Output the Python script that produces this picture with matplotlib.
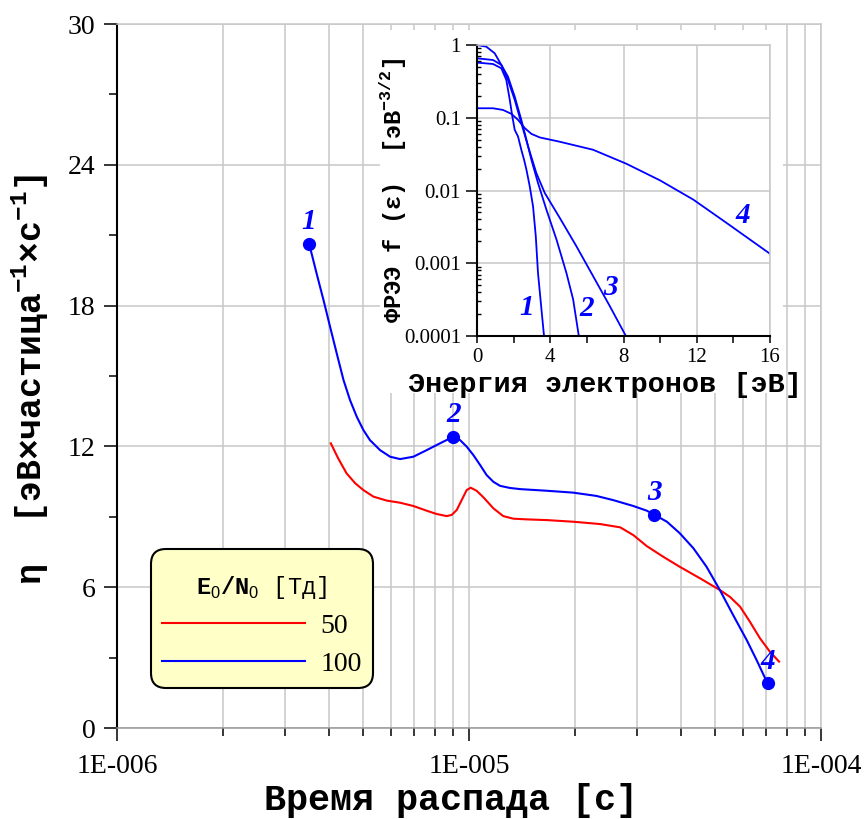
import math
import matplotlib
matplotlib.use("Agg")
import matplotlib.pyplot as plt
from matplotlib.patches import Rectangle
from matplotlib.ticker import MultipleLocator, LogLocator, FuncFormatter, NullFormatter

plt.rcParams["font.family"] = ["Liberation Serif", "DejaVu Serif"]
plt.rcParams["mathtext.fontset"] = "custom"
plt.rcParams["mathtext.rm"] = "Liberation Serif"
plt.rcParams["mathtext.tt"] = "Liberation Mono:bold"
plt.rcParams["mathtext.sf"] = "Liberation Sans"

# ---- decay time [s] vs eta, E0/N0 = 100 Td ----
t_100 = [3.51e-6, 3.57e-6, 3.69e-6, 3.86e-6, 4.03e-6, 4.21e-6, 4.40e-6, 4.59e-6,
         4.80e-6, 5.01e-6, 5.23e-6, 5.59e-6, 5.97e-6, 6.37e-6, 6.95e-6, 7.58e-6,
         8.27e-6, 9.02e-6, 9.43e-6, 9.85e-6, 1.029e-5, 1.075e-5, 1.122e-5,
         1.173e-5, 1.225e-5, 1.306e-5, 1.396e-5, 1.663e-5, 1.977e-5, 2.30e-5,
         2.57e-5, 2.93e-5, 3.20e-5, 3.36e-5, 3.65e-5, 3.97e-5, 4.34e-5, 4.73e-5,
         5.16e-5, 5.63e-5, 6.15e-5, 6.56e-5, 7.05e-5]
eta_100 = [20.62, 20.23, 19.37, 18.24, 17.10, 15.96, 14.83, 13.98,
           13.26, 12.70, 12.27, 11.84, 11.56, 11.46, 11.56, 11.84,
           12.13, 12.41, 12.27, 11.99, 11.63, 11.21, 10.78,
           10.49, 10.32, 10.23, 10.18, 10.11, 10.03, 9.89,
           9.71, 9.46, 9.26, 9.09, 8.79, 8.30, 7.66, 6.87,
           5.88, 4.81, 3.75, 2.90, 1.90]

# ---- E0/N0 = 50 Td ----
t_50 = [4.05e-6, 4.25e-6, 4.49e-6, 4.75e-6, 5.01e-6, 5.35e-6, 5.84e-6, 6.37e-6,
        6.95e-6, 7.58e-6, 8.09e-6, 8.64e-6, 8.93e-6, 9.23e-6, 9.53e-6, 9.85e-6,
        1.011e-5, 1.051e-5, 1.099e-5, 1.173e-5, 1.251e-5, 1.336e-5, 1.458e-5,
        1.663e-5, 1.977e-5, 2.36e-5, 2.69e-5, 2.93e-5, 3.20e-5, 3.56e-5, 3.97e-5,
        4.53e-5, 5.16e-5, 5.51e-5, 5.89e-5, 6.28e-5, 6.71e-5, 7.16e-5, 7.60e-5]
eta_50 = [12.13, 11.49, 10.85, 10.43, 10.14, 9.86, 9.69, 9.60,
          9.46, 9.26, 9.12, 9.03, 9.08, 9.29, 9.71, 10.14,
          10.24, 10.11, 9.83, 9.36, 9.03, 8.92, 8.89,
          8.86, 8.79, 8.69, 8.55, 8.22, 7.75, 7.30, 6.87,
          6.38, 5.88, 5.59, 5.17, 4.53, 3.82, 3.25, 2.83]

# marked states on the 100 Td curve
t_pts = [3.51e-6, 9.02e-6, 3.36e-5, 7.05e-5]
eta_pts = [20.62, 12.41, 9.09, 1.90]
pt_labels = ["1", "2", "3", "4"]

# ---- EEDF of states 1-4, energy [eV] ----
e1 = [0, 0.875, 1.33, 1.60, 1.79, 1.93, 2.06, 2.24, 2.42, 2.57, 2.70, 2.88,
      3.06, 3.21, 3.33, 3.52, 3.66]
f1 = [0.573, 0.548, 0.479, 0.331, 0.176, 0.104, 0.0682, 0.0553, 0.0363, 0.0265,
      0.0193, 0.0114, 0.00607, 0.00235, 0.00074, 0.000232, 0.0001]
e2 = [0, 0.875, 1.33, 1.69, 2.06, 2.42, 2.70, 2.97, 3.33, 3.79, 4.34, 4.88,
      5.25, 5.56]
f2 = [0.656, 0.622, 0.532, 0.368, 0.195, 0.0935, 0.0498, 0.0265, 0.0127,
      0.00546, 0.00212, 0.00074, 0.000318, 0.0001]
e3 = [0, 0.51, 0.966, 1.33, 1.69, 2.06, 2.42, 2.79, 3.24, 3.70, 4.52, 5.43,
      6.34, 7.25, 8.13]
f3 = [1.0, 0.948, 0.769, 0.532, 0.331, 0.176, 0.0843, 0.0404, 0.0174, 0.00925,
      0.0042, 0.00171, 0.000665, 0.000258, 0.0001]
e4 = [0, 0.875, 1.42, 1.88, 2.24, 2.61, 2.97, 3.43, 4.52, 6.34, 8.16, 9.99,
      11.81, 13.63, 16.0]
f4 = [0.135, 0.135, 0.128, 0.113, 0.0936, 0.072, 0.060, 0.0536, 0.0468, 0.0363,
      0.0233, 0.0138, 0.0075, 0.00358, 0.00135]

BLUE = "#0000ff"
RED = "#ff0000"
GRID = "#c8c8c8"
W, H = 868, 819

fig = plt.figure(figsize=(W / 100, H / 100), dpi=100)

# ---------------- main axes ----------------
ax = fig.add_axes([117 / W, 1 - 728 / H, 704 / W, 704 / H], zorder=0)
ax.set_xscale("log")
ax.set_xlim(1e-6, 1e-4)
ax.set_ylim(0, 30)
ax.set_axisbelow(True)

ax.plot(t_50, eta_50, color=RED, lw=1.5, label="50")
ax.plot(t_100, eta_100, color=BLUE, lw=1.5, label="100")
ax.plot(t_pts, eta_pts, "o", color=BLUE, ms=8.5)
for t, eta, lbl in zip(t_pts, eta_pts, pt_labels):
    ax.annotate(lbl, (t, eta), xytext=(0, 16), textcoords="offset points",
                ha="center", va="center", fontsize=21, fontweight="bold",
                fontstyle="italic", color=BLUE)

ax.yaxis.set_major_locator(MultipleLocator(6))
ax.yaxis.set_minor_locator(MultipleLocator(3))
ax.xaxis.set_major_locator(LogLocator(base=10))
ax.xaxis.set_minor_locator(LogLocator(base=10, subs=range(2, 10)))
ax.xaxis.set_minor_formatter(NullFormatter())
ax.xaxis.set_major_formatter(FuncFormatter(lambda v, p: "1E-%03d" % round(-math.log10(v))))

ax.tick_params(axis="both", which="major", length=9.4, width=1.1, labelsize=20, color="black")
ax.tick_params(axis="both", which="minor", length=5.5, width=1.1, color="black")
ax.tick_params(axis="y", which="major", pad=6)
ax.tick_params(axis="x", which="major", pad=9)

ax.grid(True, which="both", axis="x", color=GRID, lw=1.1)
ax.grid(True, which="major", axis="y", color=GRID, lw=1.1)

ax.spines["left"].set_color("black")
ax.spines["left"].set_linewidth(1.5)
for side in ["bottom", "top", "right"]:
    ax.spines[side].set_color(GRID)
    ax.spines[side].set_linewidth(1.1)
ax.spines["bottom"].set_color("#999999")

ax.set_xlabel("Время распада [с]", family="Liberation Mono", fontweight="bold",
              fontsize=26.5, va="center")
ax.xaxis.set_label_coords((451 - 117) / 704, -(800 - 728) / 704)
ax.set_ylabel(r"η  [эВ×частица$^{\mathtt{-1}}$×с$^{\mathtt{-1}}$]",
              family="Liberation Mono", fontweight="bold", fontsize=25, va="center")
ax.yaxis.set_label_coords((30 - 117) / 704, (728 - 379) / 704)

leg = ax.legend(loc="lower left", bbox_to_anchor=(34 / 704, 40 / 704), borderaxespad=0,
                prop={"family": "Liberation Serif", "size": 20},
                handlelength=5.15, handletextpad=0.55, labelspacing=0.45, borderpad=0.4,
                fancybox=True, framealpha=1, facecolor="#ffffc8", edgecolor="black")
leg.set_title("\n" + r"$\mathtt{E}_{\mathsf{0}}\mathtt{/N}_{\mathsf{0}}$ [Тд]",
              prop={"family": "Liberation Mono", "size": 17})
leg.get_title().set_linespacing(0.55)
leg.get_frame().set_linewidth(1.5)
leg.get_frame().set_boxstyle("round", pad=0, rounding_size=0.55)

# white backing under the inset
fig.add_artist(Rectangle((380 / W, 1 - 393 / H), 403 / W, 363 / H,
                         transform=fig.transFigure, facecolor="white",
                         edgecolor="none", zorder=1))

# ---------------- inset: EEDF ----------------
axi = fig.add_axes([477 / W, 1 - 336 / H, 293 / W, 291 / H], zorder=2)
axi.set_yscale("log")
axi.set_xlim(0, 16)
axi.set_ylim(1e-4, 1)
axi.set_axisbelow(True)

for e, f in [(e1, f1), (e2, f2), (e3, f3), (e4, f4)]:
    axi.plot(e, f, color=BLUE, lw=1.3)

for lbl, xy in zip(["1", "2", "3", "4"],
                   [(2.7, 2.5e-4), (6.0, 2.4e-4), (7.3, 4.7e-4), (14.5, 4.6e-3)]):
    axi.text(xy[0], xy[1], lbl, ha="center", va="center", fontsize=21,
             fontweight="bold", fontstyle="italic", color=BLUE)

axi.xaxis.set_major_locator(MultipleLocator(4))
axi.xaxis.set_minor_locator(MultipleLocator(2))
axi.yaxis.set_major_locator(LogLocator(base=10))
axi.yaxis.set_minor_locator(LogLocator(base=10, subs=range(2, 10)))
axi.yaxis.set_minor_formatter(NullFormatter())
axi.yaxis.set_major_formatter(FuncFormatter(lambda v, p: "%g" % v))

axi.tick_params(axis="x", which="both", length=5, width=1.1, direction="out", labelsize=15)
axi.tick_params(axis="y", which="major", length=8, width=1.1, direction="out", labelsize=15)
axi.tick_params(axis="y", which="minor", length=3, width=1.0, direction="in")

axi.grid(True, which="major", color=GRID, lw=1.1)
axi.spines["left"].set_linewidth(1.5)
axi.spines["bottom"].set_linewidth(1.5)
for side in ["top", "right"]:
    axi.spines[side].set_color(GRID)
    axi.spines[side].set_linewidth(1.1)

axi.set_xlabel("Энергия электронов [эВ]", family="Liberation Mono", fontweight="bold",
               fontsize=20.5, va="center")
axi.xaxis.set_label_coords((605 - 477) / 293, -(385 - 336) / 291)
axi.set_ylabel(r"ФРЭЭ f (ε)  [эВ$^{\mathtt{-3/2}}$]", family="Liberation Mono",
               fontweight="bold", fontsize=17, va="center")
axi.yaxis.set_label_coords((393 - 477) / 293, 0.5)

fig.savefig("out.png", dpi=100)
